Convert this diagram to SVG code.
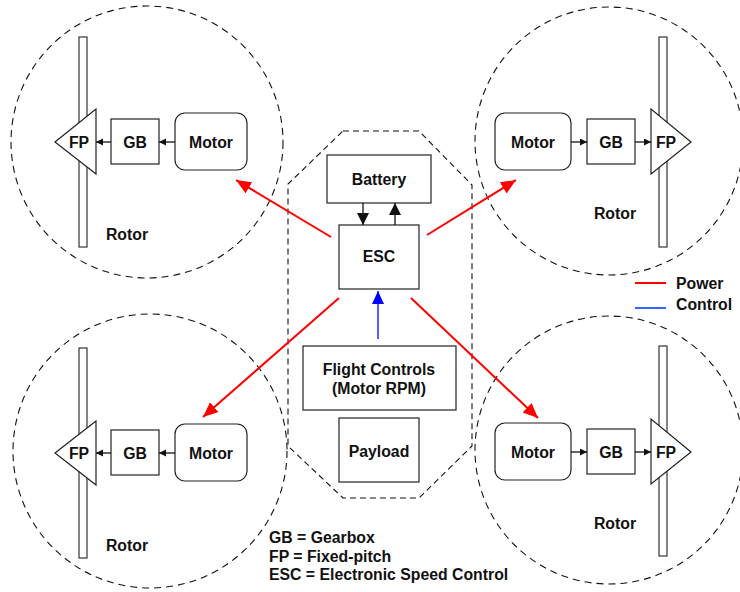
<svg xmlns="http://www.w3.org/2000/svg" width="740" height="592" viewBox="0 0 740 592">
  <defs>
    <style>
      text { font-family: "Liberation Sans", Arial, sans-serif; font-weight: bold; font-size: 15.8px; fill: #111; }
      .mid { text-anchor: middle; }
      .box { fill: #fff; stroke: #222; stroke-width: 1.2; }
      .dash { fill: none; stroke: #111; stroke-width: 1.1; stroke-dasharray: 7 5; }
      .oct { fill: none; stroke: #111; stroke-width: 1.1; stroke-dasharray: 6 4; }
      .bar { fill: #fff; stroke: #222; stroke-width: 1.1; }
      .link { stroke: #111; stroke-width: 1.3; fill: none; }
      .power { stroke: #ff0000; stroke-width: 2; fill: none; }
      .ctrl { stroke: #0000ff; stroke-width: 1.3; fill: none; }
    </style>
    <marker id="smallHead" markerUnits="userSpaceOnUse" markerWidth="8" markerHeight="8" refX="7" refY="3.5" orient="auto">
      <path d="M0,0 L7,3.5 L0,7 z" fill="#111"/>
    </marker>
    <marker id="bigHead" markerUnits="userSpaceOnUse" markerWidth="14" markerHeight="14" refX="12" refY="6" orient="auto">
      <path d="M0,0 L12,6 L0,12 z" fill="#111"/>
    </marker>
    <marker id="redHead" markerUnits="userSpaceOnUse" markerWidth="16" markerHeight="14" refX="15" refY="6.5" orient="auto">
      <path d="M0,0 L15,6.5 L0,13 z" fill="#ff0000"/>
    </marker>
    <marker id="blueHead" markerUnits="userSpaceOnUse" markerWidth="14" markerHeight="14" refX="13" refY="6" orient="auto">
      <path d="M0,0 L13,6 L0,12 z" fill="#0000ff"/>
    </marker>
  </defs>

  <rect width="740" height="592" fill="#fff"/>

  <!-- rotor boundaries -->
  <circle class="dash" cx="147" cy="142" r="136"/>
  <circle class="dash" cx="609" cy="141" r="134"/>
  <circle class="dash" cx="150" cy="451" r="137"/>
  <circle class="dash" cx="609" cy="450" r="134"/>

  <!-- airframe outline -->
  <polygon class="oct" points="343,131 419,131 472,185 472,446 419,498 343,498 288,446 288,184"/>

  <!-- top-left rotor -->
  <g id="rotor-tl">
    <rect class="bar" x="79" y="37" width="8" height="210"/>
    <polygon class="box" points="55,142 96,109 96,174"/>
    <text class="mid" x="79" y="148">FP</text>
    <rect class="box" x="111" y="119" width="48" height="45"/>
    <text class="mid" x="135" y="148">GB</text>
    <rect class="box" x="175" y="113" width="72" height="57" rx="10"/>
    <text class="mid" x="211" y="148">Motor</text>
    <text class="mid" x="127" y="240">Rotor</text>
  </g>

  <!-- top-right rotor -->
  <g id="rotor-tr">
    <rect class="bar" x="659" y="37" width="8" height="210"/>
    <polygon class="box" points="691,142 651,109 651,174"/>
    <text class="mid" x="666" y="148">FP</text>
    <rect class="box" x="587" y="119" width="48" height="45"/>
    <text class="mid" x="611" y="148">GB</text>
    <rect class="box" x="495" y="113" width="76" height="57" rx="10"/>
    <text class="mid" x="533" y="148">Motor</text>
    <text class="mid" x="615" y="219">Rotor</text>
  </g>

  <!-- bottom-left rotor -->
  <g id="rotor-bl">
    <rect class="bar" x="79" y="348" width="8" height="210"/>
    <polygon class="box" points="55,453 96,421 96,485"/>
    <text class="mid" x="79" y="459">FP</text>
    <rect class="box" x="111" y="430" width="48" height="45"/>
    <text class="mid" x="135" y="459">GB</text>
    <rect class="box" x="175" y="424" width="72" height="57" rx="10"/>
    <text class="mid" x="211" y="459">Motor</text>
    <text class="mid" x="127" y="551">Rotor</text>
  </g>

  <!-- bottom-right rotor -->
  <g id="rotor-br">
    <rect class="bar" x="659" y="346" width="8" height="210"/>
    <polygon class="box" points="691,452 651,419 651,484"/>
    <text class="mid" x="666" y="458">FP</text>
    <rect class="box" x="587" y="429" width="48" height="45"/>
    <text class="mid" x="611" y="458">GB</text>
    <rect class="box" x="495" y="423" width="76" height="57" rx="10"/>
    <text class="mid" x="533" y="458">Motor</text>
    <text class="mid" x="615" y="529">Rotor</text>
  </g>

  <!-- airframe contents -->
  <g id="battery">
    <rect class="box" x="327" y="155" width="104" height="48"/>
    <text class="mid" x="379" y="185">Battery</text>
  </g>
  <g id="esc">
    <rect class="box" x="339" y="225" width="80" height="64"/>
    <text class="mid" x="379" y="262">ESC</text>
  </g>
  <g id="flight-controls">
    <rect class="box" x="303" y="346" width="153" height="64"/>
    <text class="mid" x="379" y="375">Flight Controls</text>
    <text class="mid" x="379" y="394">(Motor RPM)</text>
  </g>
  <g id="payload">
    <rect class="box" x="339" y="418" width="80" height="64"/>
    <text class="mid" x="379" y="457">Payload</text>
  </g>

  <!-- connectors -->
  <g id="connectors">
    <!-- drive trains -->
    <line class="link" x1="175" y1="142" x2="159" y2="142" marker-end="url(#smallHead)"/>
    <line class="link" x1="111" y1="142" x2="96" y2="142" marker-end="url(#smallHead)"/>
    <line class="link" x1="571" y1="142" x2="587" y2="142" marker-end="url(#smallHead)"/>
    <line class="link" x1="635" y1="142" x2="651" y2="142" marker-end="url(#smallHead)"/>
    <line class="link" x1="175" y1="453" x2="159" y2="453" marker-end="url(#smallHead)"/>
    <line class="link" x1="111" y1="453" x2="96" y2="453" marker-end="url(#smallHead)"/>
    <line class="link" x1="571" y1="452" x2="587" y2="452" marker-end="url(#smallHead)"/>
    <line class="link" x1="635" y1="452" x2="651" y2="452" marker-end="url(#smallHead)"/>
    <!-- battery / ESC -->
    <line class="link" x1="363" y1="203" x2="363" y2="225" marker-end="url(#bigHead)"/>
    <line class="link" x1="395" y1="225" x2="395" y2="203" marker-end="url(#bigHead)"/>
    <!-- control -->
    <line class="ctrl" x1="378" y1="339" x2="378" y2="291" marker-end="url(#blueHead)"/>
    <!-- power -->
    <line class="power" x1="331" y1="237" x2="236" y2="180" marker-end="url(#redHead)"/>
    <line class="power" x1="427" y1="235" x2="516" y2="180" marker-end="url(#redHead)"/>
    <line class="power" x1="339" y1="298" x2="203" y2="417" marker-end="url(#redHead)"/>
    <line class="power" x1="411" y1="298" x2="538" y2="418" marker-end="url(#redHead)"/>
  </g>

  <!-- legend -->
  <g id="legend">
    <line x1="635" y1="283" x2="666" y2="283" stroke="#ff0000" stroke-width="2"/>
    <text x="676" y="289">Power</text>
    <line x1="635" y1="308" x2="666" y2="308" stroke="#3366ff" stroke-width="2"/>
    <text x="676" y="310">Control</text>
  </g>

  <g id="abbreviations">
    <text x="269" y="543">GB = Gearbox</text>
    <text x="269" y="562">FP = Fixed-pitch</text>
    <text x="269" y="580">ESC = Electronic Speed Control</text>
  </g>
</svg>
